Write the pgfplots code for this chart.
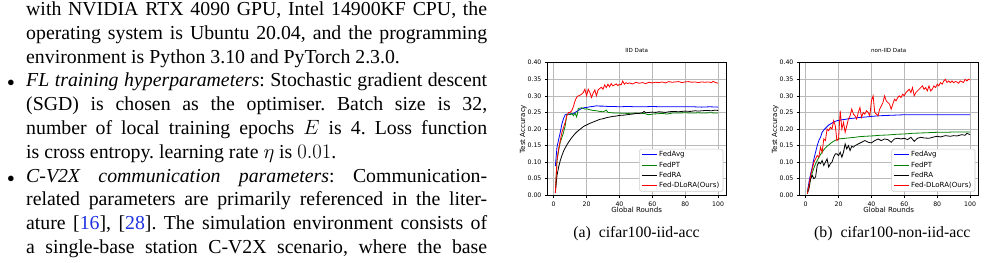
\documentclass[border=0pt]{standalone}
\usepackage{fontspec}
\setmainfont{Liberation Serif}
\newfontfamily\plotfont{DejaVu Sans}
\usepackage{pgfplots}
\pgfplotsset{compat=1.18}
\definecolor{mplgreen}{rgb}{0,0.5,0}
\definecolor{linkblue}{RGB}{30,50,225}
\newcommand{\pf}{\plotfont\fontsize{7.05bp}{8bp}\selectfont}
\newcommand{\tf}{\plotfont\fontsize{6.2bp}{7bp}\selectfont}
\newcommand{\ttf}{\plotfont\fontsize{5.6bp}{6bp}\selectfont}
\pgfplotsset{mpl/.style={
  scale only axis, width=179bp, height=132.6bp,
  xmin=-3.95, xmax=104.95, ymin=0, ymax=0.4,
  xtick={0,20,40,60,80,100},
  ytick={0,0.05,0.1,0.15,0.2,0.25,0.3,0.35,0.4},
  grid=major, major grid style={color=black!27, line width=0.6bp},
  axis line style={line width=0.6bp},
  tick align=outside, major tick length=2.3bp, tick style={black, line width=0.6bp},
  xtick pos=bottom, ytick pos=left,
  /pgf/number format/assume math mode=true,
  tick label style={font=\tf},
  yticklabel style={/pgf/number format/fixed, /pgf/number format/fixed zerofill, /pgf/number format/precision=2, anchor=east, xshift=-3.3bp, inner sep=0pt},
  xticklabel style={anchor=base, yshift=-8.7bp, inner sep=0pt},
  label style={font=\pf},
  title style={font=\ttf, at={(axis description cs:0.5,1.035)}, anchor=base, inner sep=0pt},
  xlabel style={at={(axis description cs:0.5,-0.131)}, anchor=base, inner sep=0pt},
  ylabel style={at={(axis description cs:-0.134,0.5)}, anchor=center, inner sep=0pt},
  xlabel={Global Rounds}, ylabel={Test Accuracy},
  every axis plot/.append style={line width=0.8bp, no markers},
  legend cell align=left,
  legend image code/.code={\draw[#1] (0bp,0bp) -- (15bp,0bp);},
  legend style={at={(1,0)}, anchor=south east, xshift=-2.9bp, yshift=3.6bp,
    draw=black!20, rounded corners=1.5bp, line width=0.6bp, fill=white,
    font=\pf, inner xsep=2bp, inner ysep=0.5bp, row sep=0pt,
    nodes={inner sep=1.75bp, text height=5.3bp, text depth=1.5bp}},
}}
\newcommand{\tl}[2]{\node[anchor=base west, inner sep=0pt] at (26bp,{263bp-#1bp}) {#2};}
\begin{document}
\frenchspacing
\begin{tikzpicture}
\useasboundingbox (0,0) rectangle (986bp,263bp);
\fontsize{19.8bp}{23.76bp}\selectfont
\tl{15.7}{\makebox[461bp][s]{with NVIDIA RTX 4090 GPU, Intel 14900KF CPU, the}}
\tl{39.46}{\makebox[461bp][s]{operating system is Ubuntu 20.04, and the programming}}
\tl{63.22}{environment is Python 3.10 and PyTorch 2.3.0.}
\tl{86.98}{\makebox[461bp][s]{\textit{FL training hyperparameters}: Stochastic gradient descent}}
\tl{110.74}{\makebox[461bp][s]{(SGD) is chosen as the optimiser. Batch size is 32,}}
\tl{134.5}{\makebox[461bp][s]{number of local training epochs $E$ is 4. Loss function}}
\tl{158.26}{is cross entropy. learning rate $\eta$ is $0.01$.}
\tl{182.02}{\makebox[461bp][s]{\textit{C-V2X communication parameters}: Communication-}}
\tl{205.78}{\makebox[461bp][s]{related parameters are primarily referenced in the liter-}}
\tl{229.54}{\makebox[461bp][s]{ature [{\color{linkblue}16}], [{\color{linkblue}28}]. The simulation environment consists of}}
\tl{253.3}{\makebox[461bp][s]{a single-base station C-V2X scenario, where the base}}
\node[anchor=base, inner sep=0pt] at (11bp,{263bp-86.98bp}) {\fontsize{15bp}{15bp}\selectfont$\bullet$};
\node[anchor=base, inner sep=0pt] at (11bp,{263bp-182.02bp}) {\fontsize{15bp}{15bp}\selectfont$\bullet$};
\node[anchor=base, inner sep=0pt] at (636.5bp,{263bp-237bp}) {\fontsize{15.8bp}{18bp}\selectfont(a)\ \ cifar100-iid-acc};
\node[anchor=base, inner sep=0pt] at (892.3bp,{263bp-237bp}) {\fontsize{15.8bp}{18bp}\selectfont(b)\ \ cifar100-non-iid-acc};

\begin{axis}[mpl, at={(547.2bp,67.7bp)}, anchor=south west, title={IID Data}]
\addplot[blue] coordinates {(1,0.088)(2,0.145)(3,0.168)(4,0.19)(5,0.215)(6,0.232)(7,0.243)(8,0.245)(9,0.244)(10,0.246)(11,0.245)(12,0.247)(13,0.25)(14,0.253)(15,0.256)(16,0.259)(17,0.262)(18,0.263)(19,0.265)(20,0.265)(22,0.267)(24,0.268)(26,0.27)(28,0.269)(30,0.269)(33,0.268)(36,0.268)(40,0.267)(45,0.268)(50,0.267)(55,0.267)(60,0.268)(65,0.267)(70,0.267)(75,0.267)(80,0.267)(85,0.267)(90,0.266)(95,0.267)(100,0.266)};
\addlegendentry{FedAvg}
\addplot[mplgreen] coordinates {(1,0.01)(2,0.105)(3,0.135)(4,0.16)(5,0.175)(6,0.19)(7,0.21)(8,0.243)(9,0.245)(10,0.243)(11,0.247)(12,0.24)(13,0.248)(14,0.236)(15,0.262)(16,0.263)(17,0.264)(18,0.262)(19,0.26)(20,0.261)(22,0.258)(24,0.256)(26,0.255)(28,0.253)(30,0.252)(31,0.254)(32,0.257)(33,0.25)(35,0.249)(38,0.248)(40,0.248)(45,0.247)(50,0.248)(55,0.247)(57,0.244)(58,0.243)(60,0.245)(63,0.246)(66,0.247)(69,0.245)(72,0.248)(75,0.248)(80,0.249)(85,0.248)(88,0.249)(90,0.248)(95,0.249)(100,0.248)};
\addlegendentry{FedPT}
\addplot[black] coordinates {(1,0.007)(2,0.06)(3,0.085)(4,0.105)(5,0.12)(6,0.133)(7,0.143)(8,0.152)(9,0.16)(10,0.167)(11,0.174)(12,0.18)(13,0.186)(14,0.191)(15,0.195)(16,0.199)(17,0.203)(18,0.207)(19,0.21)(20,0.212)(22,0.217)(24,0.221)(26,0.225)(28,0.229)(30,0.231)(32,0.234)(34,0.236)(36,0.238)(38,0.239)(40,0.241)(43,0.242)(46,0.244)(48,0.245)(50,0.247)(52,0.247)(54,0.249)(55,0.253)(56,0.249)(58,0.25)(60,0.251)(62,0.25)(64,0.252)(66,0.251)(68,0.25)(70,0.252)(73,0.253)(76,0.252)(80,0.254)(83,0.253)(86,0.255)(88,0.254)(90,0.255)(93,0.256)(96,0.255)(98,0.257)(100,0.256)};
\addlegendentry{FedRA}
\addplot[red] coordinates {(1,0.007)(2,0.105)(3,0.14)(4,0.165)(5,0.19)(6,0.205)(7,0.22)(8,0.24)(9,0.25)(10,0.25)(11,0.255)(12,0.268)(13,0.285)(14,0.296)(15,0.3)(16,0.302)(17,0.305)(18,0.31)(19,0.32)(20,0.3)(21,0.32)(22,0.31)(23,0.295)(24,0.308)(25,0.318)(26,0.3)(27,0.318)(28,0.322)(29,0.326)(30,0.32)(31,0.333)(32,0.325)(33,0.335)(34,0.327)(35,0.337)(36,0.33)(37,0.333)(38,0.336)(39,0.331)(40,0.335)(41,0.333)(42,0.345)(43,0.335)(44,0.34)(45,0.337)(46,0.339)(48,0.336)(50,0.341)(52,0.338)(54,0.34)(56,0.337)(58,0.341)(60,0.339)(62,0.341)(64,0.34)(66,0.342)(68,0.339)(70,0.343)(72,0.341)(74,0.342)(76,0.343)(78,0.34)(80,0.342)(82,0.343)(84,0.341)(86,0.342)(88,0.34)(90,0.342)(92,0.341)(94,0.342)(96,0.34)(97,0.344)(98,0.341)(100,0.338)};
\addlegendentry{Fed-DLoRA(Ours)}
\end{axis}

\begin{axis}[mpl, at={(799.2bp,67.7bp)}, anchor=south west, title={non-IID Data}]
\addplot[blue] coordinates {(1,0.01)(2,0.04)(3,0.065)(4,0.085)(5,0.11)(6,0.13)(7,0.15)(8,0.165)(9,0.175)(10,0.19)(11,0.197)(12,0.202)(13,0.207)(14,0.212)(15,0.215)(16,0.218)(17,0.221)(18,0.223)(19,0.225)(20,0.226)(22,0.228)(24,0.229)(26,0.231)(28,0.232)(30,0.233)(33,0.235)(36,0.236)(40,0.238)(45,0.24)(50,0.241)(55,0.242)(60,0.243)(70,0.243)(80,0.243)(90,0.243)(100,0.243)};
\addlegendentry{FedAvg}
\addplot[mplgreen] coordinates {(1,0.01)(2,0.03)(3,0.05)(4,0.068)(5,0.082)(6,0.095)(7,0.105)(8,0.115)(9,0.123)(10,0.13)(11,0.137)(12,0.143)(13,0.148)(14,0.152)(15,0.156)(16,0.16)(17,0.163)(18,0.166)(19,0.168)(20,0.17)(22,0.171)(24,0.172)(26,0.173)(28,0.174)(30,0.175)(33,0.177)(36,0.178)(40,0.179)(45,0.181)(50,0.182)(55,0.184)(60,0.185)(65,0.187)(70,0.188)(75,0.189)(80,0.19)(85,0.19)(90,0.191)(95,0.191)(100,0.191)};
\addlegendentry{FedPT}
\addplot[black] coordinates {(1,0.005)(2,0.02)(3,0.05)(4,0.06)(5,0.05)(6,0.055)(7,0.09)(8,0.1)(9,0.095)(10,0.105)(11,0.09)(12,0.1)(13,0.11)(14,0.085)(15,0.095)(16,0.1)(17,0.115)(18,0.125)(19,0.125)(20,0.12)(21,0.13)(22,0.115)(23,0.13)(24,0.155)(25,0.14)(26,0.15)(27,0.135)(28,0.148)(29,0.145)(30,0.15)(32,0.155)(34,0.16)(36,0.165)(38,0.16)(40,0.158)(42,0.165)(44,0.17)(46,0.165)(48,0.17)(50,0.168)(52,0.16)(54,0.17)(56,0.172)(58,0.17)(60,0.172)(62,0.168)(64,0.175)(66,0.163)(68,0.172)(70,0.175)(72,0.173)(75,0.172)(78,0.176)(80,0.178)(82,0.176)(85,0.18)(88,0.178)(90,0.18)(92,0.179)(95,0.183)(97,0.181)(98,0.187)(100,0.183)};
\addlegendentry{FedRA}
\addplot[red] coordinates {(1,0.005)(2,0.03)(3,0.06)(4,0.08)(5,0.1)(6,0.11)(7,0.12)(8,0.115)(9,0.145)(10,0.13)(11,0.17)(12,0.165)(13,0.2)(14,0.195)(15,0.205)(16,0.2)(17,0.225)(18,0.21)(19,0.165)(20,0.17)(21,0.255)(22,0.2)(23,0.22)(24,0.19)(25,0.21)(26,0.23)(27,0.24)(28,0.26)(29,0.245)(30,0.24)(31,0.23)(32,0.25)(33,0.265)(34,0.235)(35,0.25)(36,0.245)(37,0.255)(38,0.25)(39,0.24)(40,0.285)(41,0.3)(42,0.25)(43,0.245)(44,0.24)(45,0.26)(46,0.27)(47,0.28)(48,0.3)(49,0.285)(50,0.28)(51,0.275)(52,0.26)(53,0.275)(54,0.29)(55,0.285)(56,0.295)(57,0.3)(58,0.295)(59,0.305)(60,0.3)(61,0.31)(62,0.315)(63,0.32)(64,0.31)(65,0.325)(66,0.3)(67,0.31)(68,0.315)(69,0.32)(70,0.325)(71,0.33)(72,0.32)(73,0.325)(74,0.315)(75,0.33)(76,0.315)(77,0.32)(78,0.33)(79,0.325)(80,0.335)(81,0.33)(82,0.34)(83,0.335)(84,0.345)(85,0.35)(86,0.34)(87,0.345)(88,0.34)(89,0.345)(90,0.34)(91,0.343)(92,0.342)(93,0.338)(94,0.345)(95,0.343)(96,0.34)(97,0.35)(98,0.345)(99,0.35)(100,0.348)};
\addlegendentry{Fed-DLoRA(Ours)}
\end{axis}
\end{tikzpicture}
\end{document}
